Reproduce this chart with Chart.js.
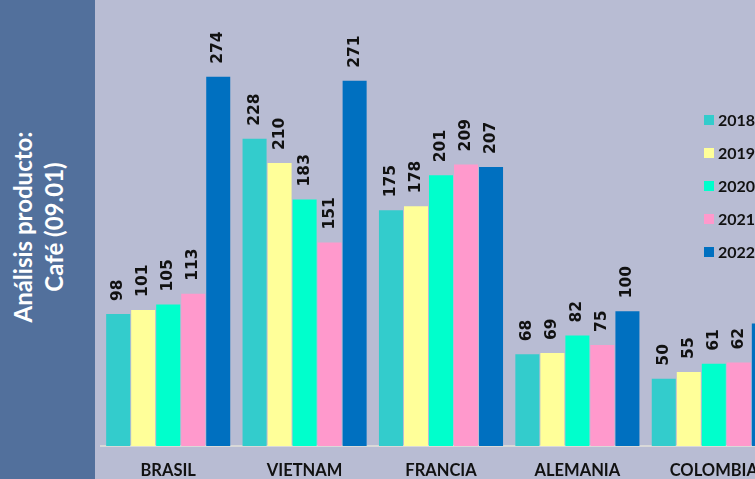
<!DOCTYPE html>
<html>
<head>
<meta charset="utf-8">
<script src="https://cdn.jsdelivr.net/npm/chart.js@4.4.0/dist/chart.umd.min.js"></script>
<style>
  html, body { margin: 0; padding: 0; }
  body { width: 755px; height: 479px; overflow: hidden; position: relative; background: #B8BCD3; font-family: Lato, "Open Sans", sans-serif; }
  #panel { position: absolute; left: 0; top: 0; width: 95px; height: 479px; background: #52709C; }
  #panelText { position: absolute; left: 38px; top: 227px; transform: translate(-50%, -50%) rotate(-90deg); color: #fff; font-weight: 700; font-size: 24px; line-height: 31px; text-align: center; white-space: nowrap; }
  #wrap { position: absolute; left: 100px; top: 0; width: 682px; height: 479px; }
  #legend { position: absolute; left: 704px; top: 103px; }
  .li { height: 33px; display: flex; align-items: center; font-weight: 700; font-size: 16px; color: #111; }
  .sw { width: 10px; height: 10px; margin-right: 4px; }
</style>
</head>
<body>
<div id="panel"><div id="panelText">Análisis producto:<br>Café (09.01)</div></div>
<div id="wrap"><canvas id="c" width="682" height="479"></canvas></div>
<div id="legend"></div>
<script>
const categories = ["BRASIL", "VIETNAM", "FRANCIA", "ALEMANIA", "COLOMBIA"];
const years = ["2018", "2019", "2020", "2021", "2022"];
const colors = ["#33CCCC", "#FFFF99", "#00FFCC", "#FF99CC", "#0070C0"];
const v2018 = [98, 228, 175, 68, 50];
const v2019 = [101, 210, 178, 69, 55];
const v2020 = [105, 183, 201, 82, 61];
const v2021 = [113, 151, 209, 75, 62];
const v2022 = [274, 271, 207, 100, 91];
const seriesValues = [v2018, v2019, v2020, v2021, v2022];

const valueLabels = {
  id: 'valueLabels',
  afterDatasetsDraw(chart) {
    const ctx = chart.ctx;
    ctx.save();
    ctx.font = 'bold 15.5px "DejaVu Sans", Verdana, sans-serif';
    ctx.fillStyle = '#111';
    ctx.textAlign = 'left';
    ctx.textBaseline = 'middle';
    chart.data.datasets.forEach((ds, di) => {
      const meta = chart.getDatasetMeta(di);
      meta.data.forEach((el, i) => {
        ctx.save();
        ctx.translate(el.x, el.y - 13);
        ctx.rotate(-Math.PI / 2);
        ctx.fillText(String(ds.data[i]), 0, 0);
        ctx.restore();
      });
    });
    ctx.restore();
  }
};

new Chart(document.getElementById('c'), {
  type: 'bar',
  data: {
    labels: categories,
    datasets: years.map((y, i) => ({
      label: y,
      data: seriesValues[i],
      backgroundColor: colors[i],
      borderWidth: 0,
      barPercentage: 0.96,
      categoryPercentage: 0.917
    }))
  },
  options: {
    responsive: false,
    animation: false,
    layout: { padding: 0 },
    plugins: { legend: { display: false }, tooltip: { enabled: false }, title: { display: false } },
    scales: {
      x: {
        grid: { display: false, drawTicks: false },
        border: { display: true, color: '#D9D9D9', width: 2 },
        ticks: { color: '#111', font: { family: 'Lato', weight: 'bold', size: 16.5 }, padding: 15, maxRotation: 0 },
        afterFit: s => { s.height = 33; }
      },
      y: { display: false, min: 0, max: 331 }
    }
  },
  plugins: [valueLabels]
});

const lg = document.getElementById('legend');
years.forEach((y, i) => {
  const d = document.createElement('div');
  d.className = 'li';
  d.innerHTML = '<span class="sw" style="background:' + colors[i] + '"></span>' + y;
  lg.appendChild(d);
});
</script>
</body>
</html>
